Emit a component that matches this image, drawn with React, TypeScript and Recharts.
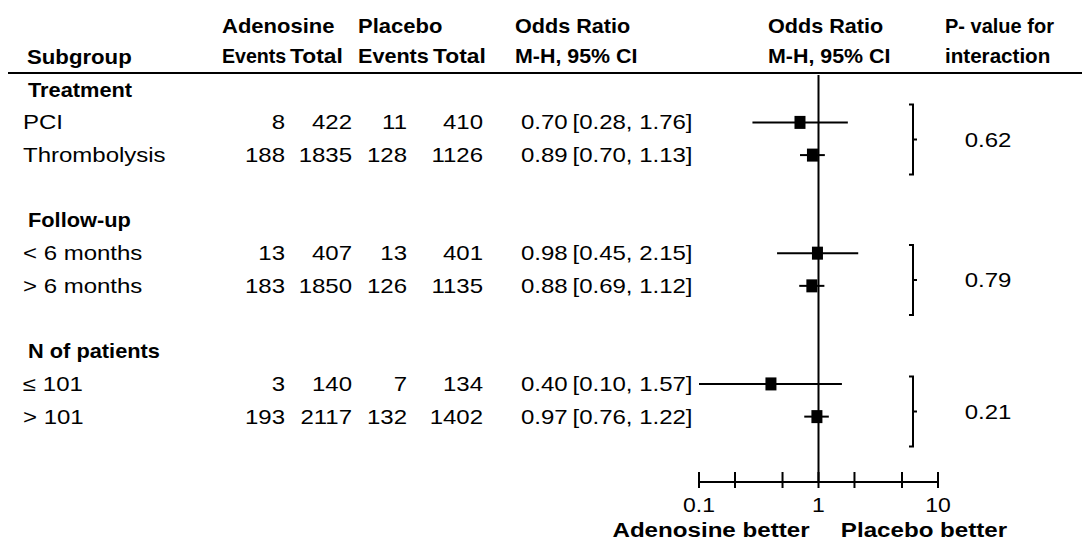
import React from "react";
import {
  ComposedChart,
  Scatter,
  ErrorBar,
  XAxis,
  YAxis,
  ReferenceLine,
} from "recharts";

// table values
const groupNames = ["Treatment", "Follow-up", "N of patients"];
const subgroupNames = ["PCI", "Thrombolysis", "< 6 months", "> 6 months", "\u2264 101", "> 101"];
const adenosineEvents = [8, 188, 13, 183, 3, 193];
const adenosineTotal = [422, 1835, 407, 1850, 140, 2117];
const placeboEvents = [11, 128, 13, 126, 7, 132];
const placeboTotal = [410, 1126, 401, 1135, 134, 1402];
const oddsRatio = [0.7, 0.89, 0.98, 0.88, 0.4, 0.97];
const ciLow = [0.28, 0.7, 0.45, 0.69, 0.1, 0.76];
const ciHigh = [1.76, 1.13, 2.15, 1.12, 1.57, 1.22];
const pInteraction = ["0.62", "0.79", "0.21"];

const axisTicks = [0.1, 0.2, 0.5, 1, 2, 5, 10];
const axisLabels = ["0.1", "1", "10"];

const FONT = "'Liberation Sans', Arial, sans-serif";

// row index: group header on 4g, its two subgroups on 4g+1 and 4g+2
const rowOf = (k: number) => 4 * Math.floor(k / 2) + 1 + (k % 2);

const forestData = oddsRatio.map((or, k) => ({
  or,
  row: rowOf(k),
  err: [or - ciLow[k], ciHigh[k] - or],
}));

const tableRows = [
  ...groupNames.map((_, g) => 4 * g),
  ...subgroupNames.map((_, k) => rowOf(k)),
].sort((a, b) => a - b);

// text is a bit wide in the source, so stretch it horizontally
function T({ x, y, anchor = "start", bold = false, size = 20, sx = 1.2, children }: any) {
  return (
    <g transform={`translate(${x},${y}) scale(${sx},1)`}>
      <text
        x={0}
        y={0}
        textAnchor={anchor}
        fontFamily={FONT}
        fontSize={size}
        fontWeight={bold ? 700 : 400}
        fill="#000"
      >
        {children}
      </text>
    </g>
  );
}

const TableTick = (props: any) => {
  const { y, payload } = props;
  const row = payload.value as number;
  const by = y + 7;
  if (row % 4 === 0) {
    return <T x={28} y={by} bold sx={1.09}>{groupNames[row / 4]}</T>;
  }
  const k = 2 * Math.floor(row / 4) + ((row % 4) - 1);
  return (
    <g>
      <T x={23} y={by}>{subgroupNames[k]}</T>
      <T x={285} y={by} anchor="end">{adenosineEvents[k]}</T>
      <T x={352} y={by} anchor="end">{adenosineTotal[k]}</T>
      <T x={407} y={by} anchor="end">{placeboEvents[k]}</T>
      <T x={483} y={by} anchor="end">{placeboTotal[k]}</T>
      <T x={521} y={by}>
        {`${oddsRatio[k].toFixed(2)}\u2009[${ciLow[k].toFixed(2)}, ${ciHigh[k].toFixed(2)}]`}
      </T>
    </g>
  );
};

const PTick = (props: any) => {
  const { y, index } = props;
  const x = 913;
  const h = 35;
  return (
    <g>
      <path
        d={`M${x - 4},${y - h} H${x} V${y + h} H${x - 4} M${x},${y} H${x + 4}`}
        fill="none"
        stroke="#000"
        strokeWidth={2}
      />
      <T x={988} y={y + 7.5} anchor="middle">{pInteraction[index]}</T>
    </g>
  );
};

const XTick = (props: any) => {
  const { x, y, payload } = props;
  const label = axisLabels.find((l) => Number(l) === payload.value);
  return (
    <g>
      <line x1={x} x2={x} y1={y - 10} y2={y + 6} stroke="#000" strokeWidth={2} />
      {label && <T x={x} y={y + 30} anchor="middle" sx={1.15}>{label}</T>}
    </g>
  );
};

const Square = (props: any) => (
  <rect x={props.cx - 5.5} y={props.cy - 6.5} width={11} height={13} fill="#000" />
);

function Headers() {
  return (
    <svg
      width={1082}
      height={542}
      style={{ position: "absolute", left: 0, top: 0, pointerEvents: "none" }}
    >
      <T x={222} y={33} bold sx={1.1}>Adenosine</T>
      <T x={358} y={33} bold sx={1.1}>Placebo</T>
      <T x={515} y={33} bold sx={1.08}>Odds Ratio</T>
      <T x={768} y={33} bold sx={1.08}>Odds Ratio</T>
      <T x={945} y={33} bold sx={1.0}>P- value for</T>
      <T x={27} y={64} bold sx={1.11}>Subgroup</T>
      <T x={222} y={63} bold sx={0.98}>Events</T>
      <T x={290} y={63} bold sx={1.14}>Total</T>
      <T x={358} y={63} bold sx={1.08}>Events</T>
      <T x={433} y={63} bold sx={1.14}>Total</T>
      <T x={515} y={63} bold sx={1.07}>M-H, 95% CI</T>
      <T x={768} y={63} bold sx={1.07}>M-H, 95% CI</T>
      <T x={945} y={63} bold sx={1.03}>interaction</T>
      <line x1={8} x2={1082} y1={73} y2={73} stroke="#000" strokeWidth={2} />
      <T x={711} y={537} anchor="middle" bold size={21} sx={1.15}>Adenosine better</T>
      <T x={924} y={537} anchor="middle" bold size={21} sx={1.15}>Placebo better</T>
    </svg>
  );
}

export default function App() {
  return (
    <div style={{ position: "absolute", left: 0, top: 0, width: 1082, height: 542, background: "#fff" }}>
      <ComposedChart
        width={1082}
        height={542}
        data={forestData}
        margin={{ top: 75, right: 0, bottom: 0, left: 0 }}
      >
        <XAxis
          dataKey="or"
          type="number"
          scale="log"
          domain={[0.1, 10]}
          ticks={axisTicks}
          interval={0}
          allowDataOverflow
          height={60}
          tickSize={0}
          tickMargin={0}
          tickLine={false}
          axisLine={{ stroke: "#000", strokeWidth: 2 }}
          tick={XTick}
        />
        <YAxis
          yAxisId="rows"
          dataKey="row"
          type="number"
          reversed
          domain={[-0.45, 12]}
          ticks={tableRows}
          interval={0}
          allowDataOverflow
          width={699}
          tickSize={0}
          tickMargin={0}
          tickLine={false}
          axisLine={false}
          tick={TableTick}
        />
        <YAxis
          yAxisId="p"
          orientation="right"
          type="number"
          reversed
          domain={[-0.45, 12]}
          ticks={[1.52, 5.82, 9.84]}
          interval={0}
          allowDataOverflow
          width={144}
          tickSize={0}
          tickMargin={0}
          tickLine={false}
          axisLine={false}
          tick={PTick}
        />
        <ReferenceLine yAxisId="rows" x={1} stroke="#000" strokeWidth={2} />
        <Scatter
          yAxisId="rows"
          dataKey="row"
          shape={Square}
          isAnimationActive={false}
        >
          <ErrorBar
            dataKey="err"
            direction="x"
            width={0}
            stroke="#000"
            strokeWidth={2}
            isAnimationActive={false}
          />
        </Scatter>
      </ComposedChart>
      <Headers />
    </div>
  );
}
